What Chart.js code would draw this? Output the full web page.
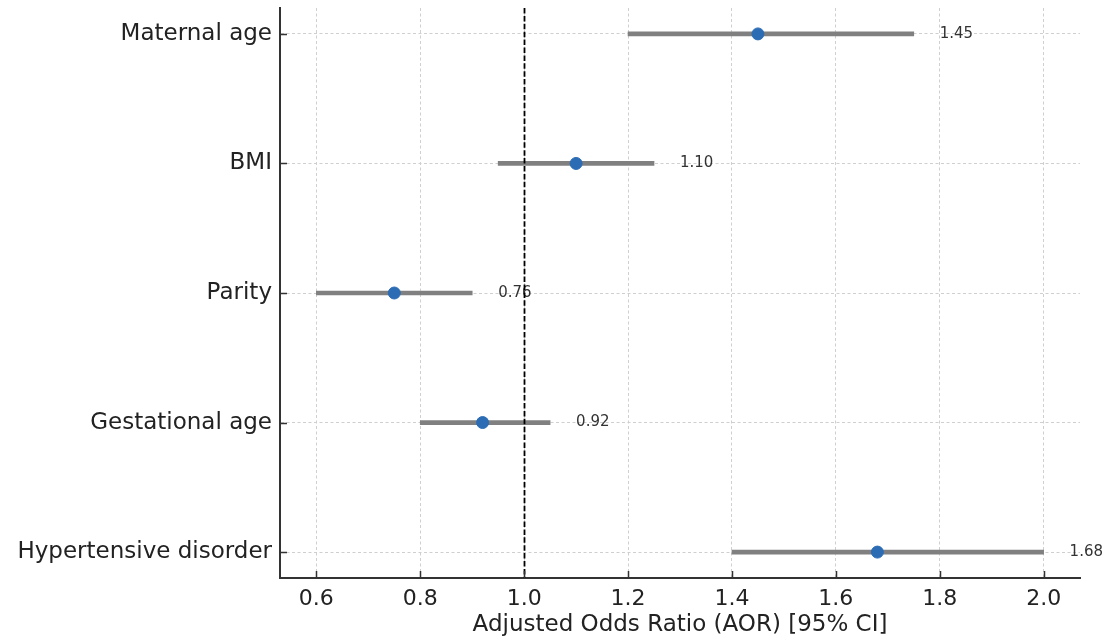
<!DOCTYPE html>
<html>
<head>
<meta charset="utf-8">
<script src="https://cdn.jsdelivr.net/npm/chart.js@4.4.0/dist/chart.umd.min.js"></script>
<style>
  html, body { margin: 0; padding: 0; background: #fff; }
  #forest { display: block; }
</style>
</head>
<body>
<canvas id="forest" width="1107" height="641"></canvas>
<script>
// Data
const categories = ['Maternal age', 'BMI', 'Parity', 'Gestational age', 'Hypertensive disorder'];
const aor = [1.45, 1.10, 0.75, 0.92, 1.68];
const ciLow = [1.20, 0.95, 0.60, 0.80, 1.40];
const ciHigh = [1.75, 1.25, 0.90, 1.05, 2.00];
const aorLabels = ['1.45', '1.10', '0.76', '0.92', '1.68'];
const refLine = 1.0;

const FONT = 'DejaVu Sans';

// Text labels next to each CI + dashed reference line at 1.0
const overlayPlugin = {
  id: 'overlay',
  afterDatasetsDraw(chart) {
    const ctx = chart.ctx;
    const xs = chart.scales.x;
    const ys = chart.scales.y;
    const area = chart.chartArea;

    ctx.save();
    ctx.font = '15px ' + FONT;
    ctx.fillStyle = '#333';
    ctx.textAlign = 'left';
    ctx.textBaseline = 'middle';
    aorLabels.forEach((lbl, i) => {
      ctx.fillText(lbl, xs.getPixelForValue(ciHigh[i] + 0.05), ys.getPixelForValue(i));
    });

    const x1 = Math.round(xs.getPixelForValue(refLine)) + 0.5;
    ctx.strokeStyle = '#000';
    ctx.lineWidth = 1.8;
    ctx.setLineDash([5.5, 2.4]);
    ctx.beginPath();
    ctx.moveTo(x1, area.top);
    ctx.lineTo(x1, area.bottom);
    ctx.stroke();
    ctx.restore();
  },
  afterDraw(chart) {
    // inward tick marks like the original
    const ctx = chart.ctx;
    const xs = chart.scales.x;
    const ys = chart.scales.y;
    const area = chart.chartArea;
    ctx.save();
    ctx.strokeStyle = '#333';
    ctx.lineWidth = 1.5;
    ctx.beginPath();
    xs.ticks.forEach(t => {
      const px = Math.round(xs.getPixelForValue(t.value)) + 0.5;
      ctx.moveTo(px, area.bottom);
      ctx.lineTo(px, area.bottom - 7);
    });
    ys.ticks.forEach(t => {
      const py = Math.round(ys.getPixelForValue(t.value)) + 0.5;
      ctx.moveTo(area.left, py);
      ctx.lineTo(area.left + 7, py);
    });
    ctx.stroke();
    ctx.restore();
  }
};

const ctx = document.getElementById('forest').getContext('2d');
new Chart(ctx, {
  type: 'bar',
  data: {
    datasets: [
      {
        type: 'scatter',
        label: 'AOR',
        data: aor.map((v, i) => ({x: v, y: i})),
        backgroundColor: '#2b6cb5',
        borderColor: '#2b6cb5',
        pointRadius: 6,
        order: 0
      },
      {
        label: '95% CI',
        data: ciLow.map((lo, i) => ({x: [lo, ciHigh[i]], y: i})),
        backgroundColor: '#808080',
        borderWidth: 0,
        barThickness: 4,
        order: 1
      }
    ]
  },
  options: {
    indexAxis: 'y',
    responsive: false,
    animation: false,
    layout: { padding: { top: 8, right: 27, left: 0, bottom: 0 } },
    plugins: {
      legend: { display: false },
      tooltip: { enabled: false }
    },
    scales: {
      x: {
        type: 'linear',
        min: 0.53,
        max: 2.07,
        afterFit(scale) {
          scale.height = 63;
          scale.paddingLeft = 0;
          scale.paddingRight = 0;
        },
        ticks: {
          stepSize: 0.2,
          includeBounds: false,
          padding: 8,
          color: '#222',
          font: { family: FONT, size: 22 },
          callback: v => Number(v).toFixed(1)
        },
        grid: { color: '#cfcfcf', lineWidth: 1, drawTicks: false },
        border: { display: true, color: '#333', width: 2, dash: [3, 2.5] },
        title: {
          display: true,
          text: 'Adjusted Odds Ratio (AOR) [95% CI]',
          color: '#222',
          font: { family: FONT, size: 23 },
          padding: { top: 0, bottom: 2 }
        }
      },
      y: {
        type: 'linear',
        min: -0.2,
        max: 4.2,
        reverse: true,
        offset: false,
        afterFit(scale) {
          scale.width = 280;
          scale.paddingTop = 0;
          scale.paddingBottom = 0;
        },
        ticks: {
          stepSize: 1,
          includeBounds: false,
          padding: 8,
          color: '#222',
          font: { family: FONT, size: 23 },
          callback: v => categories[v] || ''
        },
        grid: { offset: false, color: '#cfcfcf', lineWidth: 1, drawTicks: false },
        border: { display: true, color: '#333', width: 2, dash: [3, 2.5] }
      }
    }
  },
  plugins: [overlayPlugin]
});
</script>
</body>
</html>
